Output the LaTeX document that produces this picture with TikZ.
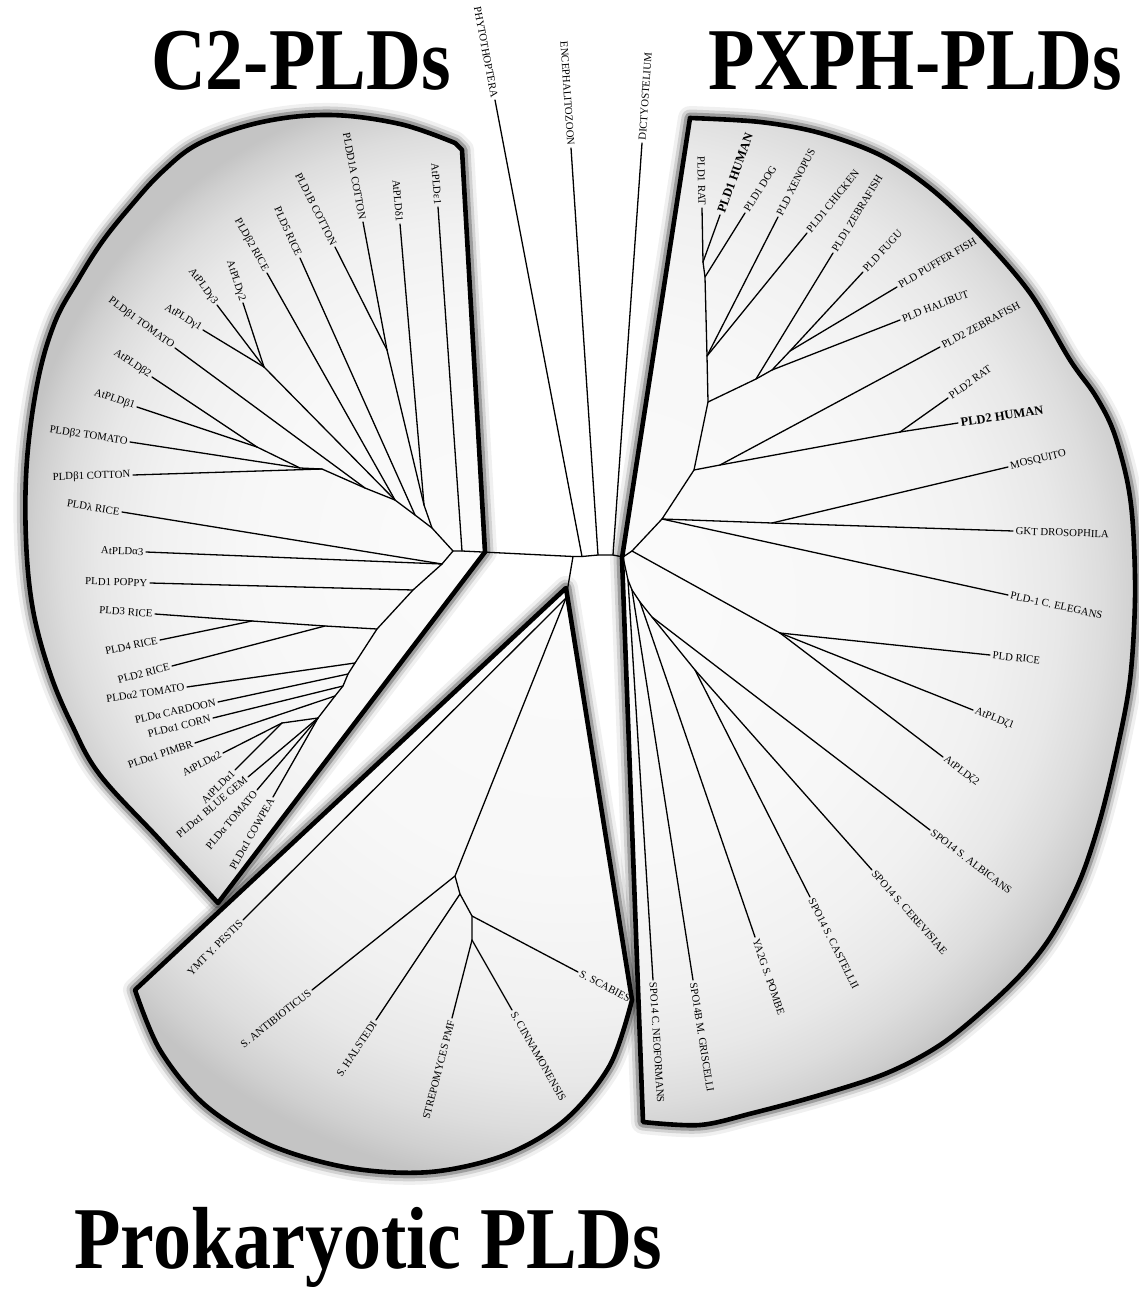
\documentclass[tikz,border=0pt]{standalone}
\usepackage{fontspec}
\setmainfont{Liberation Serif}
\usetikzlibrary{calc}

\pgfdeclareradialshading{wedgefill}{\pgfpoint{0bp}{0bp}}{%
  color(0bp)=(gray!3);
  color(6.25bp)=(gray!6);
  color(8.75bp)=(gray!11);
  color(10.25bp)=(gray!18);
  color(11.25bp)=(gray!27);
  color(12bp)=(gray!37);
  color(12.5bp)=(gray!46);
  color(50bp)=(gray!46)}

\newcommand{\leafR}[3]{\draw[branch] (#1) -- (#2) node[lbl, pos=1, sloped, anchor=west] (t-#2) {#3};}
\newcommand{\leafL}[3]{\draw[branch] (#2) -- (#1) node[lbl, pos=0, sloped, anchor=east] (t-#2) {#3};}
\newcommand{\hl}[1]{{\fontsize{6.3}{7}\selectfont\bfseries #1}}

\begin{document}
\begin{tikzpicture}[x=0.5pt, y=-0.5pt,
    branch/.style={line width=0.65pt, line cap=round, line join=round},
    lbl/.style={font=\fontsize{5.4}{6}\selectfont, inner sep=1pt},
    rim/.style={line width=2.3pt, line join=round},
    title/.style={font=\fontsize{38}{40}\selectfont\bfseries, inner sep=0pt, anchor=base},
    c2wedge/.style={insert path={(455,143) -- (462,150) -- (485,552) -- (218,903) -- plot[smooth, tension=0.6] coordinates {(218,903) (160,840) (100,775) (72,725) (50,673) (33,610) (26,540) (27,460) (38,380) (55,322) (78,280) (102,242) (130,207) (162,172) (200,143) (262,122) (330,115) (400,124) (455,143)} -- cycle}},
    pxwedge/.style={insert path={(690,118) -- (622,558) -- (643,1122) -- plot[smooth, tension=0.55] coordinates {(643,1122) (700,1125) (753,1113) (820,1095) (887,1073) (940,1045) (987,1007) (1025,970) (1053,933) (1080,880) (1100,820) (1117,750) (1130,680) (1135,600) (1133,527) (1127,480) (1113,430) (1095,395) (1070,360) (1030,293) (980,235) (930,188) (880,155) (820,133) (760,122) (690,118)} -- cycle}},
    prwedge/.style={insert path={(566,588) -- (135,990) -- plot[smooth, tension=0.55] coordinates {(135,990) (160,1050) (205,1105) (270,1145) (350,1168) (430,1172) (505,1155) (565,1120) (610,1065) (632,1000)} -- cycle}}
]
\fill[white] (0,0) rectangle (1139,1295);
\useasboundingbox (0,0) rectangle (1139,1295);

%% titles
\node[title] (ttl-c2) at (301,90) {\scalebox{1}[1.16]{C2-PLDs}};
\node[title] (ttl-px) at (915,90) {\scalebox{1}[1.16]{PXPH-PLDs}};
\node[title] (ttl-pr) at (368,1268) {\scalebox{1}[1.16]{Prokaryotic PLDs}};

%% wedges: soft shadow, shading, rim
\foreach \w/\o in {12/0.06, 8.5/0.12, 5.5/0.25} {
  \draw[c2wedge, line width=\w pt, draw opacity=\o, line join=round];
  \draw[pxwedge, line width=\w pt, draw opacity=\o, line join=round];
  \draw[prwedge, line width=\w pt, draw opacity=\o, line join=round];
}
\coordinate (c2c) at (480,550);
\coordinate (pxc) at (600,600);
\coordinate (prc) at (566,588);
\begin{scope}
  \clip[c2wedge];
  \shade[shading=wedgefill] (c2c) circle (930);
\end{scope}
\begin{scope}
  \clip[pxwedge];
  \shade[shading=wedgefill] (pxc) circle (1120);
\end{scope}
\begin{scope}
  \clip[prwedge];
  \shade[shading=wedgefill] (prc) circle (1200);
\end{scope}
\draw[rim, c2wedge];
\draw[rim, pxwedge];
\draw[rim, prwedge];

%% backbone
\coordinate (r2) at (453,551);
\coordinate (e1) at (462,551);
\coordinate (j1) at (573,556.5);
\coordinate (j2) at (582,556.5);
\coordinate (j3) at (598,555);
\coordinate (j4) at (613,555);
\coordinate (f0) at (623,557);
\coordinate (p0) at (632,551);
\draw[branch] (r2) -- (e1) -- (j1) -- (j2) -- (j3) -- (j4) -- (f0) -- (p0);

%% unplaced lineages
\coordinate (phy) at (495,100);
\coordinate (enc) at (571,148);
\coordinate (dic) at (642,143);
\leafL{j2}{phy}{PHYTOTHOPTERA}
\leafL{j3}{enc}{ENCEPHALITOZOON}
\leafR{j4}{dic}{DICTYOSTELIUM}

%% C2 clade, upper part
\coordinate (eps) at (438,207);
\coordinate (u1) at (432,528);
\coordinate (ud) at (424,505);
\coordinate (del) at (400,224);
\coordinate (d1) at (387,350);
\coordinate (d1a) at (363,222);
\coordinate (d1b) at (335,247);
\coordinate (u2) at (415,515);
\coordinate (r5) at (300,258);
\coordinate (u3) at (395,500);
\coordinate (rb2) at (267,273);
\coordinate (g) at (264,367);
\coordinate (g2) at (243,303);
\coordinate (g3) at (217,305);
\coordinate (g1) at (203,330);
\coordinate (u4) at (365,488);
\coordinate (tb1) at (175,348);
\coordinate (u5) at (322,469);
\coordinate (cb1) at (133,475);
\coordinate (u6) at (300,468);
\coordinate (tb2) at (130,442);
\coordinate (nb1) at (257,447);
\coordinate (ab1) at (137,407);
\coordinate (ab2) at (152,377);
\draw[branch] (r2) -- (u1) -- (ud) -- (d1);
\draw[branch] (u1) -- (u2) -- (u3) -- (u4) -- (u5) -- (u6) -- (nb1);
\draw[branch] (u3) -- (g);
\leafL{e1}{eps}{AtPLDε1}
\leafL{ud}{del}{AtPLDδ1}
\leafL{d1}{d1a}{PLDD1A COTTON}
\leafL{d1}{d1b}{PLD1B COTTON}
\leafL{u2}{r5}{PLD5 RICE}
\leafL{u3}{rb2}{PLDβ2 RICE}
\leafL{g}{g2}{AtPLDγ2}
\leafL{g}{g3}{AtPLDγ3}
\leafL{g}{g1}{AtPLDγ1}
\leafL{u4}{tb1}{PLDβ1 TOMATO}
\leafL{u5}{cb1}{PLDβ1 COTTON}
\leafL{u6}{tb2}{PLDβ2 TOMATO}
\leafL{nb1}{ab1}{AtPLDβ1}
\leafL{nb1}{ab2}{AtPLDβ2}

%% C2 clade, alpha part
\coordinate (a1) at (442,564);
\coordinate (lam) at (122,512);
\coordinate (aa3) at (146,552);
\coordinate (a2) at (413,590);
\coordinate (pop) at (150,583);
\coordinate (a3) at (377,629);
\coordinate (a3b) at (325,626);
\coordinate (a3c) at (252,621);
\coordinate (r3) at (155,614);
\coordinate (r4) at (160,640);
\coordinate (r2r) at (172,666);
\coordinate (a4) at (355,663);
\coordinate (ta2) at (187,687);
\coordinate (a5) at (348,674);
\coordinate (car) at (218,702);
\coordinate (a6) at (343,686);
\coordinate (cor) at (213,718);
\coordinate (a7) at (335,696);
\coordinate (pim) at (195,743);
\coordinate (a8) at (318,718);
\coordinate (a12) at (282,723);
\coordinate (aa2) at (223,753);
\coordinate (aa1) at (235,770);
\coordinate (blu) at (248,777);
\coordinate (tom) at (257,790);
\coordinate (cow) at (273,797);
\draw[branch] (r2) -- (a1) -- (a2) -- (a3) -- (a4) -- (a5) -- (a6) -- (a7) -- (a8) -- (a12);
\draw[branch] (a3) -- (a3b) -- (a3c);
\leafL{a1}{lam}{PLDλ RICE}
\leafL{a1}{aa3}{AtPLDα3}
\leafL{a2}{pop}{PLD1 POPPY}
\leafL{a3c}{r3}{PLD3 RICE}
\leafL{a3c}{r4}{PLD4 RICE}
\leafL{a3b}{r2r}{PLD2 RICE}
\leafL{a4}{ta2}{PLDα2 TOMATO}
\leafL{a5}{car}{PLDα CARDOON}
\leafL{a6}{cor}{PLDα1 CORN}
\leafL{a7}{pim}{PLDα1 PIMBR}
\leafL{a12}{aa2}{AtPLDα2}
\leafL{a12}{aa1}{AtPLDα1}
\leafL{a8}{blu}{PLDα1 BLUE GEM}
\leafL{a8}{tom}{PLDα TOMATO}
\leafL{a8}{cow}{PLDα1 COWPEA}

%% PXPH clade, animals
\coordinate (pa) at (662,519);
\coordinate (pv) at (694,470);
\coordinate (nv) at (708,402);
\coordinate (v3) at (707,356);
\coordinate (v2) at (705,277);
\coordinate (v1) at (703,262);
\coordinate (rat1) at (702,208);
\coordinate (hum1) at (720,215);
\coordinate (dog1) at (745,213);
\coordinate (xen) at (778,217);
\coordinate (chk) at (807,233);
\coordinate (f3) at (756,379);
\coordinate (zeb1) at (833,253);
\coordinate (f2) at (772,370);
\coordinate (hal) at (900,320);
\coordinate (f1) at (790,351);
\coordinate (fug) at (863,272);
\coordinate (puf) at (897,287);
\coordinate (p2z) at (720,465);
\coordinate (zeb2) at (940,347);
\coordinate (p2) at (900,432);
\coordinate (rat2) at (948,398);
\coordinate (hum2) at (958,423);
\coordinate (mg) at (772,523);
\coordinate (mos) at (1008,467);
\coordinate (gkt) at (1013,531);
\coordinate (cel) at (1008,595);
\draw[branch] (p0) -- (pa) -- (pv) -- (nv) -- (v3) -- (v2) -- (v1);
\draw[branch] (nv) -- (f3) -- (f2) -- (f1);
\draw[branch] (pv) -- (p2z) -- (p2);
\draw[branch] (pa) -- (mg);
\leafL{v1}{rat1}{PLD1 RAT}
\leafR{v1}{hum1}{\hl{PLD1 HUMAN}}
\leafR{v2}{dog1}{PLD1 DOG}
\leafR{v3}{xen}{PLD XENOPUS}
\leafR{v3}{chk}{PLD1 CHICKEN}
\leafR{f3}{zeb1}{PLD1 ZEBRAFISH}
\leafR{f2}{hal}{PLD HALIBUT}
\leafR{f1}{fug}{PLD FUGU}
\leafR{f1}{puf}{PLD PUFFER FISH}
\leafR{p2z}{zeb2}{PLD2 ZEBRAFISH}
\leafR{p2}{rat2}{PLD2 RAT}
\leafR{p2}{hum2}{\hl{PLD2 HUMAN}}
\leafR{mg}{mos}{MOSQUITO}
\leafR{mg}{gkt}{GKT DROSOPHILA}
\leafR{pa}{cel}{PLD-1 C. ELEGANS}

%% PXPH clade, plants and fungi
\coordinate (z1) at (780,633);
\coordinate (ric) at (990,655);
\coordinate (ze1) at (973,710);
\coordinate (ze2) at (943,757);
\coordinate (fa) at (628,580);
\coordinate (neo) at (653,980);
\coordinate (fb) at (632,590);
\coordinate (gri) at (693,980);
\coordinate (fc0) at (640,602);
\coordinate (pom) at (755,937);
\coordinate (fd) at (652,617);
\coordinate (alb) at (930,830);
\coordinate (fc) at (695,670);
\coordinate (cas) at (810,897);
\coordinate (cer) at (872,870);
\draw[branch] (p0) -- (z1);
\draw[branch] (f0) -- (fa) -- (fb) -- (fc0) -- (fd) -- (fc);
\leafR{z1}{ric}{PLD RICE}
\leafR{z1}{ze1}{AtPLDζ1}
\leafR{z1}{ze2}{AtPLDζ2}
\leafR{fa}{neo}{SPO14 C. NEOFORMANS}
\leafR{fb}{gri}{SPO14B M. GRISCELLI}
\leafR{fc0}{pom}{YA2G S. POMBE}
\leafR{fd}{alb}{SPO14 S. ALBICANS}
\leafR{fc}{cas}{SPO14 S. CASTELLII}
\leafR{fc}{cer}{SPO14 S. CEREVISIAE}

%% prokaryotic clade
\coordinate (pR) at (566,598);
\coordinate (pA) at (455,876);
\coordinate (pB) at (460,894);
\coordinate (pC) at (472,916);
\coordinate (pD) at (472,940);
\coordinate (ymt) at (243,920);
\coordinate (ant) at (312,990);
\coordinate (hals) at (376,1020);
\coordinate (str) at (452,1018);
\coordinate (cin) at (512,1010);
\coordinate (sca) at (578,972);
\draw[branch] (j1) -- (pR) -- (pA) -- (pB) -- (pC) -- (pD);
\leafL{pR}{ymt}{YMT Y. PESTIS}
\leafL{pA}{ant}{S. ANTIBIOTICUS}
\leafL{pB}{hals}{S. HALSTEDI}
\leafR{pC}{sca}{S. SCABIES}
\leafL{pD}{str}{STREPOMYCES PMF}
\leafR{pD}{cin}{S. CINNAMONENSIS}
\end{tikzpicture}
\end{document}
